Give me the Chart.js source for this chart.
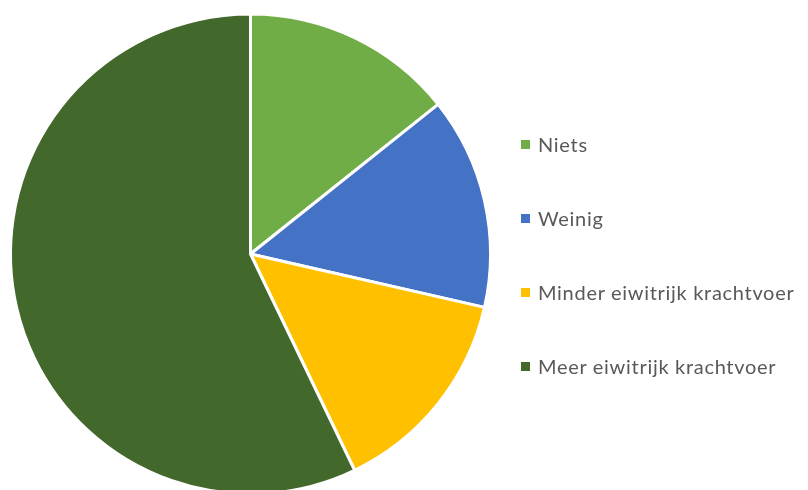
<!DOCTYPE html>
<html>
<head>
<meta charset="utf-8">
<script src="https://cdn.jsdelivr.net/npm/chart.js@4"></script>
<style>
  html, body { margin: 0; padding: 0; background: #fff; overflow: hidden; }
  #wrap { position: relative; width: 808px; height: 510px; }
  #legenda { position: absolute; left: 521px; top: 0; font-family: Lato, "Open Sans", sans-serif; font-size: 20px; letter-spacing: 0.7px; color: #595959; }
  .item { position: absolute; left: 0; white-space: nowrap; height: 24px; line-height: 24px; }
  .item span.box { position: absolute; left: 0; top: 8px; width: 9px; height: 9px; }
  .item span.txt { position: absolute; left: 17px; top: 0; }
</style>
</head>
<body>
<div id="wrap">
  <canvas id="graficoPizza"></canvas>
  <div id="legenda"></div>
</div>
<script>
// Dados do gráfico
const categorias = ['Niets', 'Weinig', 'Minder eiwitrijk krachtvoer', 'Meer eiwitrijk krachtvoer'];
const valores = [1, 1, 1, 4];
const cores = ['#70AD47', '#4472C4', '#FFC000', '#43682B'];

// Legenda em HTML (centro vertical de cada linha)
const posLegenda = [144, 218, 292, 366];
const legenda = document.getElementById('legenda');
categorias.forEach((nome, i) => {
    const div = document.createElement('div');
    div.className = 'item';
    div.style.top = (posLegenda[i] - 12) + 'px';
    div.innerHTML = `<span class="box" style="background:${cores[i]}"></span><span class="txt">${nome}</span>`;
    legenda.appendChild(div);
});

// Gráfico de pizza
const ctx = document.getElementById('graficoPizza').getContext('2d');
const graficoPizza = new Chart(ctx, {
    type: 'pie',
    data: {
        labels: categorias,
        datasets: [{
            data: valores,
            backgroundColor: cores,
            borderColor: '#ffffff',
            borderWidth: 3
        }]
    },
    options: {
        responsive: true,
        maintainAspectRatio: false,
        animation: false,
        layout: {
            padding: { left: 9, top: 12, right: 316, bottom: 14 }
        },
        plugins: {
            legend: { display: false },
            tooltip: { enabled: false }
        }
    }
});
</script>
</body>
</html>
